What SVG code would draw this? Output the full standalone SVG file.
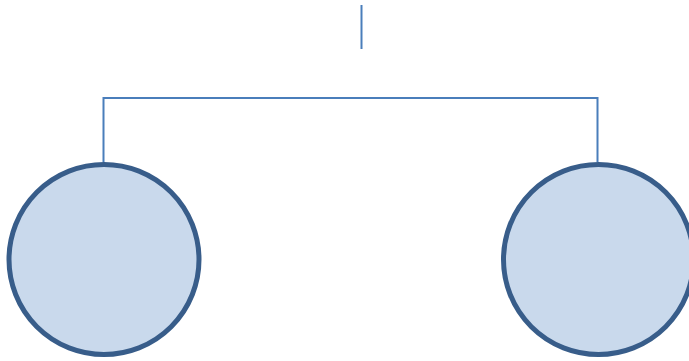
<svg xmlns="http://www.w3.org/2000/svg" width="689" height="361" viewBox="0 0 689 361">
<style>
.conn{stroke:#4a7ebb;stroke-width:2;fill:none}
.node{fill:#c9d9ec;stroke:#385d8a;stroke-width:5}
</style>
<rect width="689" height="361" fill="#ffffff"/>
<g id="connectors">
<line class="conn" x1="361.5" y1="5" x2="361.5" y2="49"/>
<polyline class="conn" points="103.5,162 103.5,98 597.5,98 597.5,162"/>
</g>
<g id="node-left"><circle class="node" cx="104" cy="259.5" r="95"/></g>
<g id="node-right"><circle class="node" cx="598.5" cy="259.5" r="95"/></g>
</svg>
